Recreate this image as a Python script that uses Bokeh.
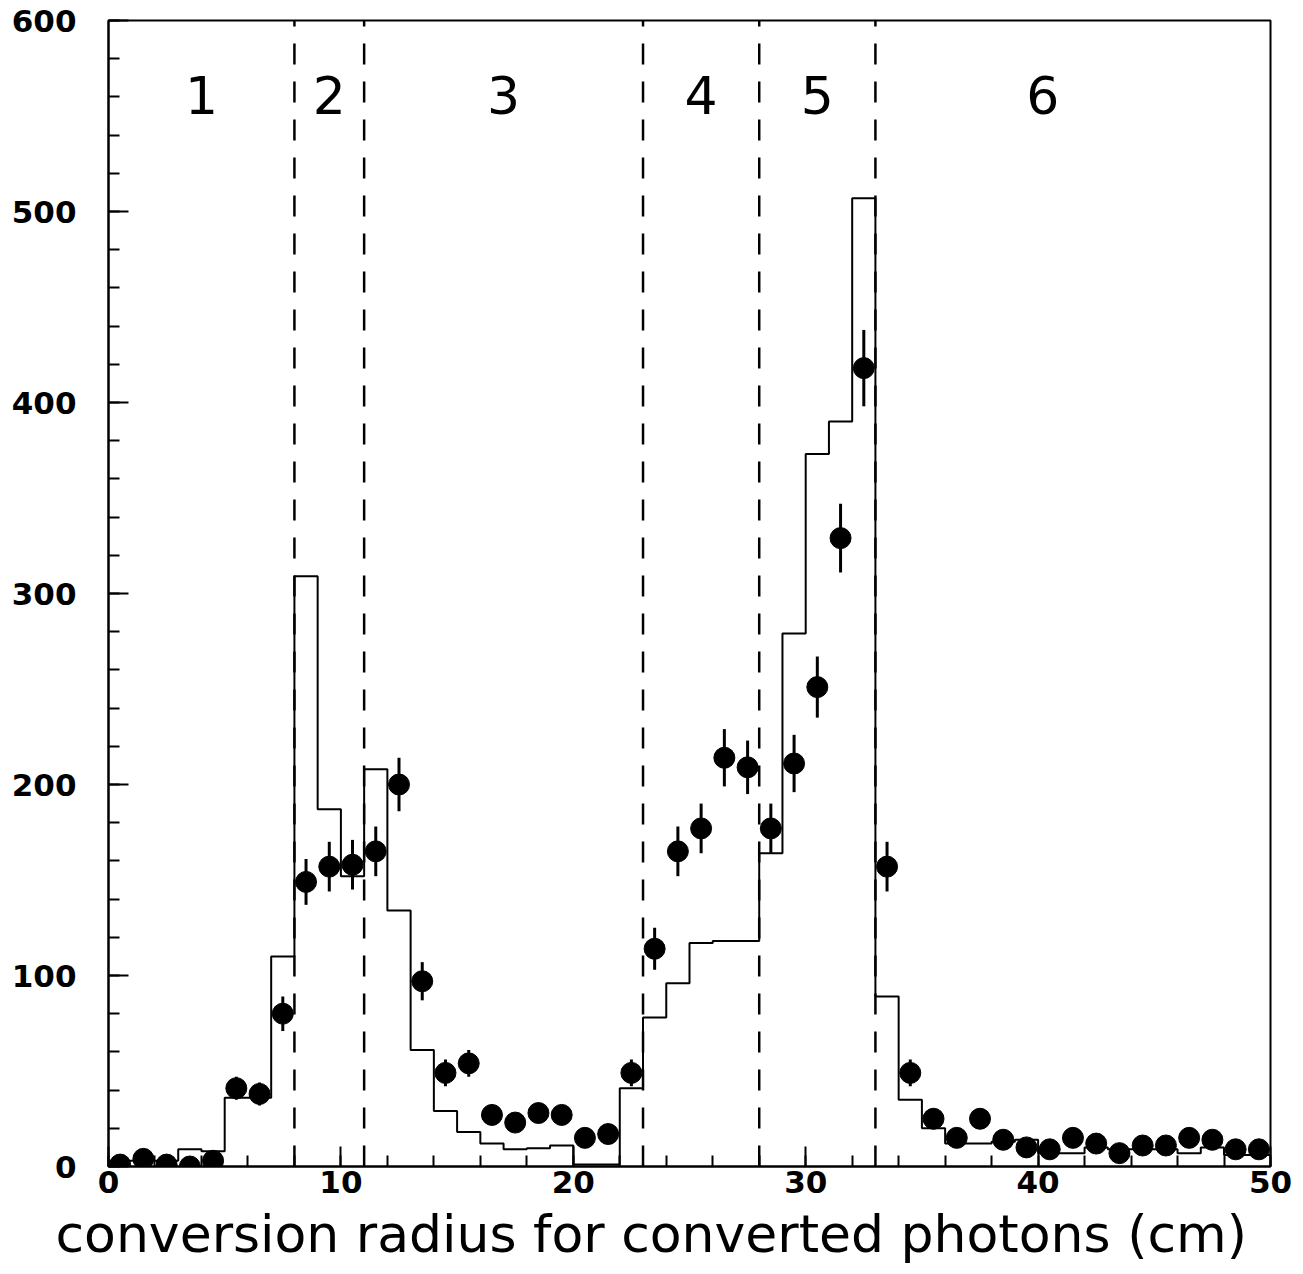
from bokeh.plotting import figure
from bokeh.models import SingleIntervalTicker, Range1d, Title
from bokeh.core.properties import value
from bokeh.embed import file_html
from bokeh.resources import INLINE

# Simulated conversion-radius histogram (1 cm bins, 0..50 cm)
bin_edges = list(range(0, 51))
mc_counts = [3, 3, 3, 9, 8, 36, 36, 110, 309, 187,
             152, 208, 134, 61, 29, 18, 12, 9, 9.5, 11,
             1, 1, 41, 78, 96, 117, 118, 118, 164, 279,
             373, 390, 507, 89, 35, 20, 12, 12, 13, 14,
             7, 7, 10, 9, 9, 9, 7, 10, 6, 6]

# Measured converted photons at bin centres, with statistical errors
data_r = [i + 0.5 for i in range(50)]
data_counts = [1, 4, 1, 0, 3, 41, 38, 80, 149, 157,
               158, 165, 200, 97, 49, 54, 27, 23, 28, 27,
               15, 17, 49, 114, 165, 177, 214, 209, 177, 211,
               251, 329, 418, 157, 49, 25, 15, 25, 14, 10,
               9, 15, 12, 7, 11, 11, 15, 14, 9, 9]
data_errs = [1, 2, 1, 0, 2, 6, 6, 9, 12, 13,
             13, 13, 14, 10, 7, 7, 5, 5, 5, 5,
             4, 4, 7, 11, 13, 13, 15, 14, 13, 15,
             16, 18, 20, 13, 7, 5, 4, 5, 4, 3,
             3, 4, 3, 3, 3, 3, 4, 4, 3, 3]

# Radial region boundaries and region numbers
region_bounds = [8, 11, 23, 28, 33]
region_names = ["1", "2", "3", "4", "5", "6"]
region_label_r = [4, 9.5, 17, 25.5, 30.5, 40.2]
region_label_y = 561

x_title = "conversion radius for converted photons (cm)"

p = figure(width=1303, height=1274, output_backend="svg", toolbar_location=None,
           x_range=Range1d(0, 50), y_range=Range1d(0, 600),
           min_border_left=108, min_border_right=33,
           min_border_top=20, min_border_bottom=108)
p.background_fill_color = "white"
p.border_fill_color = "white"
p.grid.visible = False
p.outline_line_color = "black"
p.outline_line_width = 2

# axes: ticks pointing inward, bold numeric labels
p.xaxis.ticker = SingleIntervalTicker(interval=10, num_minor_ticks=5)
p.yaxis.ticker = SingleIntervalTicker(interval=100, num_minor_ticks=5)
for ax in (p.xaxis[0], p.yaxis[0]):
    ax.axis_line_width = 2
    ax.axis_line_color = "black"
    ax.major_tick_in = 20
    ax.major_tick_out = 0
    ax.minor_tick_in = 11
    ax.minor_tick_out = 0
    ax.major_tick_line_width = 2
    ax.minor_tick_line_width = 2
    ax.major_tick_line_color = "black"
    ax.minor_tick_line_color = "black"
    ax.major_label_text_font = "DejaVu Sans"
    ax.major_label_text_font_style = "bold"
    ax.major_label_text_font_size = "31px"
    ax.major_label_text_color = "black"
p.xaxis.major_label_standoff = 4
p.yaxis.major_label_standoff = 32

# region boundaries
p.segment(x0=region_bounds, y0=[0] * len(region_bounds),
          x1=region_bounds, y1=[600] * len(region_bounds),
          line_color="black", line_width=2.5, line_dash="21 17")

# simulation histogram
p.step(x=bin_edges, y=mc_counts + [mc_counts[-1]], mode="after",
       line_color="black", line_width=2)

# data points with error bars
p.segment(x0=data_r, y0=[c - e for c, e in zip(data_counts, data_errs)],
          x1=data_r, y1=[c + e for c, e in zip(data_counts, data_errs)],
          line_color="black", line_width=3)
p.scatter(x=data_r, y=data_counts, size=21, marker="circle",
          fill_color="black", line_color="black")

# region numbers
p.text(x=region_label_r, y=[region_label_y] * len(region_names), text=region_names,
       text_font=value("DejaVu Sans"), text_font_size="52px",
       text_align="center", text_baseline="middle", text_color="black")

# x-axis title, set slightly left of the frame centre
p.add_layout(Title(text=x_title, align="left", offset=-53, standoff=12,
                   text_font="DejaVu Sans", text_font_size="52px",
                   text_font_style="normal", text_color="black"), "below")

open("out.html", "w").write(file_html(p, INLINE))
